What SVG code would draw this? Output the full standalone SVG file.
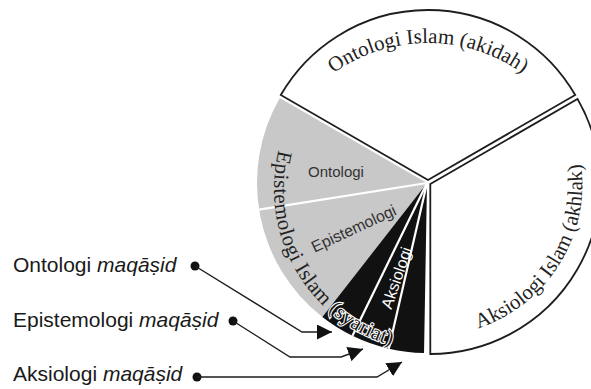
<svg xmlns="http://www.w3.org/2000/svg" width="591" height="389" viewBox="0 0 591 389">
<style>
.sector{fill:#fff;stroke:#1e1e1e;stroke-width:1.8;stroke-linejoin:miter}
.gray{fill:#c8c8c8}
.blk{fill:#111}
.sep{stroke:#fff;stroke-width:2.2;fill:none}
.serif{font-family:"Liberation Serif","Times New Roman",serif;font-size:21px;fill:#222}
.inner{font-family:"Liberation Sans",Arial,sans-serif;font-size:16px;fill:#333}
.lbl{font-family:"Liberation Sans","DejaVu Sans",Arial,sans-serif;font-size:21px;fill:#1a1a1a}
.halo{fill:#1a1a1a;stroke:#fff;stroke-width:2.2;paint-order:stroke}
.conn{fill:none;stroke:#1e1e1e;stroke-width:1.4}
.dot{fill:#111}
</style>
<defs>
<marker id="arr" markerUnits="userSpaceOnUse" markerWidth="17" markerHeight="15" refX="15" refY="7.5" orient="auto">
<path d="M0,0 L15,7.5 L0,15 Z" fill="#111"/>
</marker>
<path id="tpTop" d="M286.84,124.5 A163,163 0 0 1 569.16,124.5"/>
<path id="tpRight" d="M451.45,334.52 A152,152 0 0 0 574.86,137.03"/>
<path id="tpLeft" d="M303.48,95.51 A163,163 0 0 0 451.21,351.38"/>
</defs>

<g id="ontologi-islam">
<path class="sector" d="M428,180 L280.78,95 A170,170 0 0 1 575.22,95 Z"/>
<text class="serif" text-anchor="middle"><textPath href="#tpTop" startOffset="50%">Ontologi Islam (akidah)</textPath></text>
</g>

<g id="aksiologi-islam">
<path class="sector" d="M430.3,184 L577.52,99 A170,170 0 0 1 430.3,354 Z"/>
<text class="serif" text-anchor="middle"><textPath href="#tpRight" startOffset="50%">Aksiologi Islam (akhlak)</textPath></text>
</g>

<g id="epistemologi-islam">
<path class="gray" d="M427,183 L279.78,98 A170,170 0 0 0 322.34,316.96 Z"/>
<line class="sep" x1="427" y1="183" x2="259.09" y2="209.59"/>
<g id="maqasid-wedges">
<path class="blk" d="M427,183 L322.34,316.96 A170,170 0 0 0 352.48,335.79 Z"/>
<path class="blk" d="M427,183 L352.48,335.79 A170,170 0 0 0 388.76,348.64 Z"/>
<path class="blk" d="M427,183 L388.76,348.64 A170,170 0 0 0 424.03,352.97 Z"/>
<line class="sep" x1="427" y1="183" x2="352.48" y2="335.79"/>
<line class="sep" x1="427" y1="183" x2="388.76" y2="348.64"/>
</g>
<text class="inner" x="336" y="177" text-anchor="middle" style="font-size:15px">Ontologi</text>
<text class="inner" x="356" y="233.5" text-anchor="middle" transform="rotate(-25 356 233.5)">Epistemologi</text>
<text class="inner" x="401.7" y="279.6" text-anchor="middle" transform="rotate(-71 401.7 279.6)" style="fill:#fff">Aksiologi</text>
<text class="serif" text-anchor="middle" letter-spacing="0.35"><textPath href="#tpLeft" startOffset="50%">Epistemologi Islam <tspan class="halo">(syariat)</tspan></textPath></text>
</g>

<g id="label-ontologi-maqasid">
<text class="lbl" x="13" y="272">Ontologi <tspan font-style="italic">maqāṣid</tspan></text>
<circle class="dot" cx="195" cy="266" r="4.5"/>
</g>
<g id="label-epistemologi-maqasid">
<text class="lbl" x="13" y="327">Epistemologi <tspan font-style="italic">maqāṣid</tspan></text>
<circle class="dot" cx="233" cy="321" r="4.5"/>
</g>
<g id="label-aksiologi-maqasid">
<text class="lbl" x="13" y="381">Aksiologi <tspan font-style="italic">maqāṣid</tspan></text>
<circle class="dot" cx="197" cy="377" r="4.5"/>
</g>

<g id="connectors">
<path class="conn" marker-end="url(#arr)" d="M195,266 L302,332 L332,332"/>
<path class="conn" marker-end="url(#arr)" d="M233,321 L290,357 L341,357 L363,349"/>
<path class="conn" marker-end="url(#arr)" d="M197,377 L377,377 L402,362"/>
</g>
</svg>
